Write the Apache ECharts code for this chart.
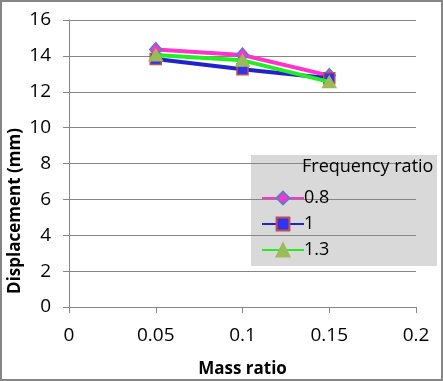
<!DOCTYPE html>
<html>
<head>
<meta charset="utf-8">
<script src="https://cdn.jsdelivr.net/npm/echarts@6/dist/echarts.min.js"></script>
<style>
html,body{margin:0;padding:0;background:#fff;}
#c{width:439px;height:377px;border:2px solid #868686;}
</style>
</head>
<body>
<div id="c"></div>
<script>
var massRatio = [0.05, 0.1, 0.15];
var seriesNames = ['0.8', '1', '1.3'];
var disp08 = [14.35, 14.05, 12.9];
var disp1 = [13.82, 13.25, 12.75];
var disp13 = [14.05, 13.75, 12.55];
var xTicks = [0, 0.05, 0.1, 0.15, 0.2];
var yTicks = [0, 2, 4, 6, 8, 10, 12, 14, 16];

var font = '"Open Sans", "Noto Sans", sans-serif';
function pairs(vals){ return massRatio.map(function(x,i){ return [x, vals[i]]; }); }

var chart = echarts.init(document.getElementById('c'), null, {renderer:'canvas'});
chart.setOption({
  animation:false,
  backgroundColor:'#fff',
  grid:{left:67, right:25, top:18, bottom:72, containLabel:false, outerBoundsMode:'none'},
  xAxis:{
    type:'value', min:xTicks[0], max:xTicks[xTicks.length-1], interval:0.05,
    name:'Mass ratio', nameLocation:'middle', nameGap:54,
    nameTextStyle:{fontFamily:font, fontWeight:'bold', fontSize:17, color:'#000'},
    axisLine:{show:true, onZero:false, lineStyle:{color:'#868686', width:1}},
    axisTick:{show:true, length:6, lineStyle:{color:'#868686'}},
    axisLabel:{fontFamily:font, fontSize:19, color:'#000', margin:19,
      formatter:function(v){ return String(+v.toFixed(2)); }},
    splitLine:{show:false}
  },
  yAxis:{
    type:'value', min:yTicks[0], max:yTicks[yTicks.length-1], interval:2,
    axisLine:{show:true, lineStyle:{color:'#868686', width:1}},
    axisTick:{show:true, length:6, lineStyle:{color:'#868686'}},
    axisLabel:{fontFamily:font, fontSize:19, color:'#000', margin:18},
    splitLine:{show:true, lineStyle:{color:'#868686', width:1}}
  },
  legend:{
    show:true,
    left:254, top:182, orient:'vertical',
    itemGap:8, itemWidth:42, itemHeight:16,
    data:seriesNames,
    textStyle:{fontFamily:font, fontSize:18, color:'#000', padding:[0,0,0,-5]},
    backgroundColor:'transparent'
  },
  graphic:[
    {type:'rect', left:249, top:153, z:0, shape:{width:186, height:111}, style:{fill:'#d9d9d9'}},
    {type:'text', left:300, top:156, z:10, style:{text:'Frequency ratio', font:'18px '+font, fill:'#000'}},
    {type:'text', x:13, y:209, rotation:Math.PI/2, z:10,
      style:{text:'Displacement (mm)', font:'bold 17px '+font, fill:'#000', align:'center', verticalAlign:'middle'}}
  ],
  series:[
    {name:seriesNames[0], type:'line', data:pairs(disp08), symbol:'diamond', symbolSize:[12,14],
      lineStyle:{color:'#ff33cc', width:4}, itemStyle:{color:'#ff33cc', borderColor:'#5a7ccc', borderWidth:1.5}, z:3},
    {name:seriesNames[1], type:'line', data:pairs(disp1), symbol:'rect', symbolSize:11,
      lineStyle:{color:'#2222cc', width:4}, itemStyle:{color:'#3333ee', borderColor:'#c0504d', borderWidth:1.5}, z:4},
    {name:seriesNames[2], type:'line', data:pairs(disp13), symbol:'triangle', symbolSize:[14,12],
      lineStyle:{color:'#22ee22', width:4}, itemStyle:{color:'#9bbb59', borderColor:'#9bbb59', borderWidth:1}, z:5}
  ]
});
</script>
</body>
</html>
